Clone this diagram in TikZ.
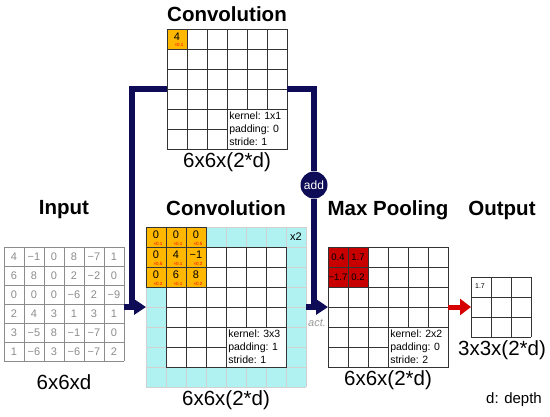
\documentclass[tikz,border=0pt]{standalone}
\usepackage{fontspec}
\setmainfont{Liberation Sans}
\usetikzlibrary{arrows.meta}

\definecolor{navy}{RGB}{14,12,86}
\definecolor{padcyan}{RGB}{176,242,242}
\definecolor{convorange}{RGB}{255,183,0}
\definecolor{poolred}{RGB}{200,0,0}
\definecolor{arrowred}{RGB}{214,0,0}

\tikzset{
  title/.style={font=\fontsize{20.5}{24}\selectfont\bfseries},
  dimlabel/.style={font=\fontsize{20.5}{24}\selectfont},
  gridnode/.style={inner sep=0pt, outer sep=0pt, draw=none},
  incell/.style={font=\fontsize{11}{13}\selectfont, text=black!45},
  cell/.style={font=\fontsize{11}{13}\selectfont},
  weight/.style={font=\fontsize{4.5}{5}\selectfont, text=red, inner sep=0pt},
  ingrid/.style={draw=black!45, line width=0.8pt},
  padline/.style={draw=black!18, line width=0.8pt},
  cellline/.style={draw=black!80, line width=0.8pt},
  kernelbox/.style={draw=black!80, fill=white, align=left, inner sep=2pt,
    font=\fontsize{10.5}{13}\selectfont\frenchspacing, anchor=south east,
    minimum width=60pt, minimum height=40pt, text width=55pt},
  navyline/.style={draw=navy, line width=5.5pt, line join=miter},
  navyarrow/.style={navyline, -{Triangle[length=12pt,width=15pt]}},
  redarrow/.style={draw=arrowred, line width=5pt, -{Triangle[length=11pt,width=16pt]}},
}

\begin{document}
\begin{tikzpicture}[x=1pt,y=-1pt]
\useasboundingbox (0,0) rectangle (550,416);

% grid nodes
\node[gridnode, minimum width=120pt, minimum height=114pt] (input) at (64,304) {};
\node[gridnode, minimum width=160pt, minimum height=160pt] (conv) at (226,307) {};
\node[gridnode, minimum width=120pt, minimum height=120pt] (topconv) at (227,89) {};
\node[gridnode, minimum width=120pt, minimum height=120pt] (pool) at (388,307) {};
\node[gridnode, minimum width=60pt, minimum height=60pt] (output) at (501,307) {};

% input
\foreach \k in {0,...,6} {
  \draw[ingrid] (4+20*\k,247) -- ++(0,114);
  \draw[ingrid] (4,247+19*\k) -- ++(120,0);
}
\foreach \row [count=\r from 0] in {{4,−1,0,8,−7,1},{6,8,0,2,−2,0},{0,0,0,−6,2,−9},
    {2,4,3,1,3,1},{3,−5,8,−1,−7,0},{1,−6,3,−6,−7,2}} {
  \foreach \v [count=\c from 0] in \row
    \node[incell] at (14+20*\c,256.5+19*\r) {\v};
}
\node[title] (inputtitle) at (64,210) {Input};
\node[dimlabel] (inputdim) at (64,382) {6x6xd};

% convolution 3x3 with padding
\fill[padcyan] (conv.north west) rectangle (conv.south east);
\foreach \k in {0,...,8} {
  \draw[padline] (146+20*\k,227) -- ++(0,160);
  \draw[padline] (146,227+20*\k) -- ++(160,0);
}
\fill[white] (166,247) rectangle (286,367);
\fill[convorange] (146,227) rectangle (206,287);
\foreach \k in {0,...,3} {
  \draw[cellline] (146+20*\k,227) -- ++(0,60);
  \draw[cellline] (146,227+20*\k) -- ++(60,0);
}
\foreach \k in {0,...,6} {
  \draw[cellline] (166+20*\k,247) -- ++(0,120);
  \draw[cellline] (166,247+20*\k) -- ++(120,0);
}
\foreach \row/\wts [count=\r from 0] in {{0,0,0}/{×0.1,×0.1,×0.5},{0,4,−1}/{×0.5,×0.1,×0.2},{0,6,8}/{×0.2,×0.1,×0.2}} {
  \foreach \v [count=\c from 0] in \row
    \node[cell] at (156+20*\c,235+20*\r) {\v};
  \foreach \w [count=\c from 0] in \wts
    \node[weight] at (158+20*\c,244+20*\r) {\w};
}
\node[cell] (times) at (296,237) {x2};
\node[kernelbox] (convkernel) at (286,367) {kernel: 3x3\\padding: 1\\stride: 1};
\node[title] (convtitle) at (226,208) {Convolution};
\node[dimlabel] (convdim) at (226,400) {6x6x(2*d)};

% convolution 1x1
\fill[convorange] (167,29) rectangle (187,49);
\foreach \k in {0,...,6} {
  \draw[cellline] (167+20*\k,29) -- ++(0,120);
  \draw[cellline] (167,29+20*\k) -- ++(120,0);
}
\node[cell] at (177,37) {4};
\node[weight] at (179,45) {×0.1};
\node[kernelbox] (topkernel) at (287,149) {kernel: 1x1\\padding: 0\\stride: 1};
\node[title] (toptitle) at (227,14) {Convolution};
\node[dimlabel] (topdim) at (227,162) {6x6x(2*d)};

% max pooling
\fill[poolred] (328,247) rectangle (368,287);
\foreach \k in {0,...,6} {
  \draw[cellline] (328+20*\k,247) -- ++(0,120);
  \draw[cellline] (328,247+20*\k) -- ++(120,0);
}
\node[cell, font=\fontsize{9.5}{11}\selectfont] at (338,257) {0.4};
\node[cell, font=\fontsize{9.5}{11}\selectfont] at (358,257) {1.7};
\node[cell, font=\fontsize{9.5}{11}\selectfont] at (338,277) {−1.7};
\node[cell, font=\fontsize{9.5}{11}\selectfont] at (358,277) {0.2};
\node[kernelbox] (poolkernel) at (448,367) {kernel: 2x2\\padding: 0\\stride: 2};
\node[title] (pooltitle) at (388,210) {Max Pooling};
\node[dimlabel] (pooldim) at (388,380) {6x6x(2*d)};

% output
\foreach \k in {0,...,3} {
  \draw[cellline] (471+20*\k,277) -- ++(0,60);
  \draw[cellline] (471,277+20*\k) -- ++(60,0);
}
\node[cell, font=\fontsize{7}{8}\selectfont] at (480,286) {1.7};
\node[title] (outtitle) at (502,210) {Output};
\node[dimlabel] (outdim) at (502,350) {3x3x(2*d)};
\node[font=\fontsize{15}{17}\selectfont] (depth) at (514,400) {d: depth};

% connectors
\node[circle, fill=navy, text=white, minimum size=27pt, inner sep=0pt,
  font=\fontsize{12}{14}\selectfont] (add) at (314,185) {add};
\coordinate (split) at (132,307);
\draw[navyarrow] (input.east |- conv.west) -- (conv.west);
\draw[navyline] (split) |- (topconv.west);
\draw[navyline] (topconv.east) -| (add.north);
\draw[navyline] (conv.east) -- (add |- conv.east);
\draw[navyarrow] (add.south) |- (pool.west);
\node[font=\fontsize{11}{13}\selectfont\itshape, text=black!40] (act) at (317,323) {act.};
\draw[redarrow] (pool.east) -- (output.west);
\end{tikzpicture}
\end{document}
